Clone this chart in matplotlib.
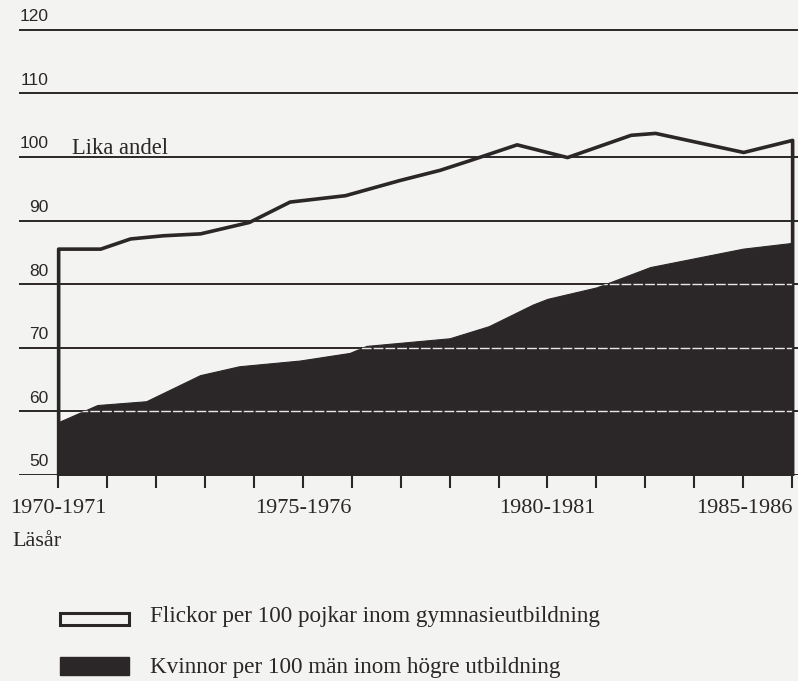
import matplotlib.pyplot as plt
from matplotlib.patches import Rectangle

# school years, 0 = 1970-1971 ... 15 = 1985-1986
gym_x = [0, 0.86, 1.47, 2.14, 2.9, 3.9, 4.73, 5.86, 6.98, 7.8, 8.4, 9.37, 10.4, 11.7, 12.2, 14.0, 15]
gym = [85.6, 85.6, 87.2, 87.7, 88.0, 89.8, 93.0, 94.0, 96.4, 98.0, 99.5, 102.0, 100.0, 103.5, 103.8, 100.8, 102.7]

hog_x = [0, 0.8, 1.8, 2.9, 3.7, 4.94, 5.96, 6.3, 8.0, 8.8, 9.7, 10.0, 11.0, 12.1, 14.0, 15]
hog = [58.3, 61.0, 61.6, 65.7, 67.1, 68.0, 69.2, 70.3, 71.5, 73.4, 76.8, 77.7, 79.5, 82.7, 85.6, 86.5]

grid_vals = [50, 60, 70, 80, 90, 100, 110, 120]
tick_labels = {0: '1970-1971', 5: '1975-1976', 10: '1980-1981', 15: '1985-1986'}

bg = '#f3f3f1'
ink = '#2b2628'
serif = 'Liberation Serif'
sans = 'Liberation Sans'

fig = plt.figure(figsize=(7.98, 6.81), dpi=100, facecolor=bg)
ax = fig.add_axes([19/798, 1 - 475/681, 779/798, 475/681])
ax.set_facecolor(bg)
ax.set_xlim(-0.8, 15.12)
ax.set_ylim(50, 124.7)

# white (outlined) area for upper secondary school
ax.fill_between(gym_x, 50, gym, facecolor=bg, edgecolor=ink, lw=2.6, zorder=1)

for v in grid_vals:
    ax.axhline(v, color=ink, lw=1.4, zorder=2)
    ax.text(-0.2, v + 0.9, str(v), ha='right', va='bottom', fontsize=12.5,
            family=sans, color=ink)

# dark area for higher education
dark = ax.fill_between(hog_x, 50, hog, facecolor=ink, edgecolor=ink, lw=0.8, zorder=3)
clip = dark.get_paths()[0]
for v in grid_vals[1:]:
    ln = ax.axhline(v, color='#e8e8e6', lw=1.0, ls=(0, (7, 1.5)), zorder=4)
    ln.set_clip_path(clip, ax.transData)

ax.text(0.29, 100.5, 'Lika andel', fontsize=16.3, family=serif, color=ink, va='baseline')

ax.set_xticks(range(16))
ax.set_xticklabels([tick_labels.get(i, '') for i in range(16)], fontsize=16,
                   family=serif, color=ink)
ax.get_xticklabels()[15].set_ha('right')
ax.tick_params(axis='x', direction='out', length=9, width=1.5, color=ink, pad=8)
ax.set_yticks([])
for s in ax.spines.values():
    s.set_visible(False)

fig.text(12/798, 1 - 546/681, 'Läsår', fontsize=16, family=serif, color=ink, va='baseline')

# legend
fig.add_artist(Rectangle((60/798, 1 - 625/681), 69/798, 12/681, transform=fig.transFigure,
                         facecolor=bg, edgecolor=ink, lw=2.2))
fig.add_artist(Rectangle((60/798, 1 - 675/681), 69/798, 18/681, transform=fig.transFigure,
                         facecolor=ink, edgecolor=ink, lw=1))
fig.text(150/798, 1 - 622/681, 'Flickor per 100 pojkar inom gymnasieutbildning',
         fontsize=16.7, family=serif, color=ink, va='baseline')
fig.text(150/798, 1 - 673/681, 'Kvinnor per 100 män inom högre utbildning',
         fontsize=16.7, family=serif, color=ink, va='baseline')

fig.savefig('out.png', dpi=100, facecolor=bg)
